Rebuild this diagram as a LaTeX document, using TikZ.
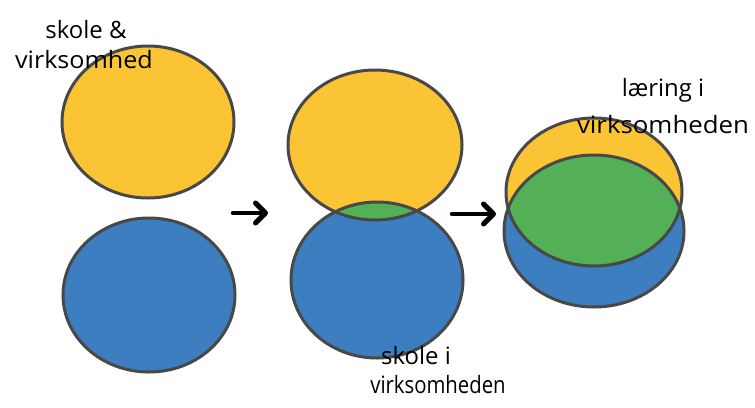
\documentclass[tikz,border=0pt]{standalone}
\usepackage{fontspec}
\setmainfont{Open Sans}
\usetikzlibrary{arrows.meta}
\definecolor{sunyellow}{RGB}{251,196,52}
\definecolor{seablue}{RGB}{60,126,192}
\definecolor{leafgreen}{RGB}{84,176,86}
\definecolor{penline}{RGB}{72,72,72}
\tikzset{
  outline/.style={draw=penline, line width=3bp},
  hand/.style={font=\fontsize{24}{28}\selectfont, inner sep=0pt, anchor=base},
  stroke/.style={line width=4.5bp, line cap=round,
    -{Straight Barb[length=10bp,width=20bp,line width=5bp,round]}}
}
\begin{document}
\begin{tikzpicture}[x=1bp,y=-1bp]
\useasboundingbox (0,0) rectangle (755,407);

% --- left pair: two separate discs
\fill[sunyellow] (148,122) ellipse [x radius=86bp, y radius=76bp];
\fill[seablue]   (149,295) ellipse [x radius=86bp, y radius=77bp];
\draw[outline]   (148,122) ellipse [x radius=86bp, y radius=76bp];
\draw[outline]   (149,295) ellipse [x radius=86bp, y radius=77bp];

% --- middle pair: small overlap
\fill[sunyellow] (375,145) ellipse [x radius=87bp, y radius=75bp];
\fill[seablue]   (377,280) ellipse [x radius=86bp, y radius=78bp];
\begin{scope}
  \clip (375,145) ellipse [x radius=87bp, y radius=75bp];
  \fill[leafgreen] (377,280) ellipse [x radius=86bp, y radius=78bp];
\end{scope}
\draw[outline]   (375,145) ellipse [x radius=87bp, y radius=75bp];
\draw[outline]   (377,280) ellipse [x radius=86bp, y radius=78bp];

% --- right pair: large overlap
\fill[sunyellow] (594,192) ellipse [x radius=88bp, y radius=74bp];
\fill[seablue]   (594,231) ellipse [x radius=90bp, y radius=76bp];
\begin{scope}
  \clip (594,192) ellipse [x radius=88bp, y radius=74bp];
  \fill[leafgreen] (594,231) ellipse [x radius=90bp, y radius=76bp];
\end{scope}
\draw[outline]   (594,192) ellipse [x radius=88bp, y radius=74bp];
\draw[outline]   (594,231) ellipse [x radius=90bp, y radius=76bp];

% --- arrows between the stages
\coordinate (a1s) at (233,213);
\coordinate (a1e) at (268,213);
\coordinate (a2s) at (452,214);
\coordinate (a2e) at (496,214);
\draw[stroke] (a1s) -- (a1e);
\draw[stroke] (a2s) -- (a2e);

% --- labels
\node[hand] (l1a) at (86,38) {skole \&};
\node[hand, xscale=1.05] (l1b) at (84,68) {virksomhed};
\node[hand] (l2a) at (416,364) {skole i};
\node[hand, xscale=0.85] (l2b) at (438,393) {virksomheden};
\node[hand] (l3a) at (663,96) {læring i};
\node[hand, xscale=1.08] (l3b) at (663,133) {virksomheden};
\end{tikzpicture}
\end{document}
